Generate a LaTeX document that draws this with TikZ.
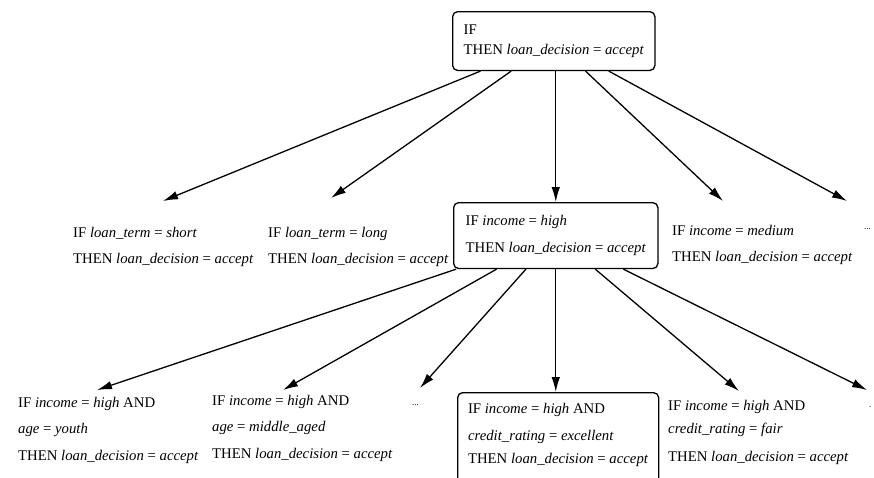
\documentclass[tikz,border=0pt]{standalone}
\usepackage{fontspec}
\setmainfont{Liberation Serif}
\usetikzlibrary{arrows.meta}
\begin{document}
\begin{tikzpicture}[x=1pt,y=-1pt,
  every node/.style={inner sep=0pt, align=left, anchor=north west},
  rulebox/.style={draw, rounded corners=5pt, line width=1.3pt, inner xsep=11pt, inner ysep=13pt},
  ftop/.style={font=\fontsize{14.75}{20}\selectfont},
  fmid/.style={font=\fontsize{14.75}{26.5}\selectfont},
  conn/.style={-{Latex[length=15pt,width=8.5pt]}, line width=1.3pt},
  dots/.style={font=\fontsize{9}{9}\selectfont}
]
\useasboundingbox (0,0) rectangle (874,477);

% level 0
\node[rulebox, ftop, minimum width=201pt] (top) at (452,11)
  {IF\\THEN \textit{loan\_decision} = \textit{accept}};

% level 1
\node[fmid] (n1) at (73,227)
  {IF \textit{loan\_term} = \textit{short}\\THEN \textit{loan\_decision} = \textit{accept}};
\node[fmid] (n2) at (268,227)
  {IF \textit{loan\_term} = \textit{long}\\THEN \textit{loan\_decision} = \textit{accept}};
\node[rulebox, fmid, inner xsep=12pt, minimum width=203pt] (mid) at (453,202)
  {IF \textit{income} = \textit{high}\\THEN \textit{loan\_decision} = \textit{accept}};
\node[fmid] (n4) at (672,225)
  {IF \textit{income} = \textit{medium}\\THEN \textit{loan\_decision} = \textit{accept}};
\node[dots] (n5) at (864,228) {...};

% level 2
\node[fmid] (b1) at (18,397)
  {IF \textit{income} = \textit{high} AND\\\textit{age} = \textit{youth}\\THEN \textit{loan\_decision} = \textit{accept}};
\node[fmid] (b2) at (212,395)
  {IF \textit{income} = \textit{high} AND\\\textit{age} = \textit{middle\_aged}\\THEN \textit{loan\_decision} = \textit{accept}};
\node[dots] (b3) at (412,404) {...};
\node[rulebox, font=\fontsize{14.75}{25}\selectfont, inner xsep=10pt, inner ysep=11pt,
      minimum width=201pt, text depth=70pt] (bc) at (457,392)
  {IF \textit{income} = \textit{high} AND\\[2pt]\textit{credit\_rating} = \textit{excellent}\\[-2pt]THEN \textit{loan\_decision} = \textit{accept}};
\node[fmid] (b5) at (668,400)
  {IF \textit{income} = \textit{high} AND\\[-3pt]\textit{credit\_rating} = \textit{fair}\\[1pt]THEN \textit{loan\_decision} = \textit{accept}};
\node[dots] (b6) at (869,406) {.};

% arrow tips
\coordinate (t1) at (163,201);
\coordinate (t2) at (331,198);
\coordinate (t4) at (723,201);
\coordinate (t5) at (847,201);
\coordinate (u1) at (97,390);
\coordinate (u2) at (283,390);
\coordinate (u3) at (420,388);
\coordinate (u5) at (739,391);
\coordinate (u6) at (867,390);

% connectors level 0 -> 1
\draw[conn] (top) -- (t1);
\draw[conn] (top) -- (t2);
\draw[conn] (top.south -| mid.north) -- (mid.north);
\draw[conn] (top) -- (t4);
\draw[conn] (top) -- (t5);

% connectors level 1 -> 2
\draw[conn] (mid) -- (u1);
\draw[conn] (mid) -- (u2);
\draw[conn] (mid) -- (u3);
\draw[conn] (mid.south) -- (mid.south |- bc.north);
\draw[conn] (mid) -- (u5);
\draw[conn] (mid) -- (u6);
\end{tikzpicture}
\end{document}
